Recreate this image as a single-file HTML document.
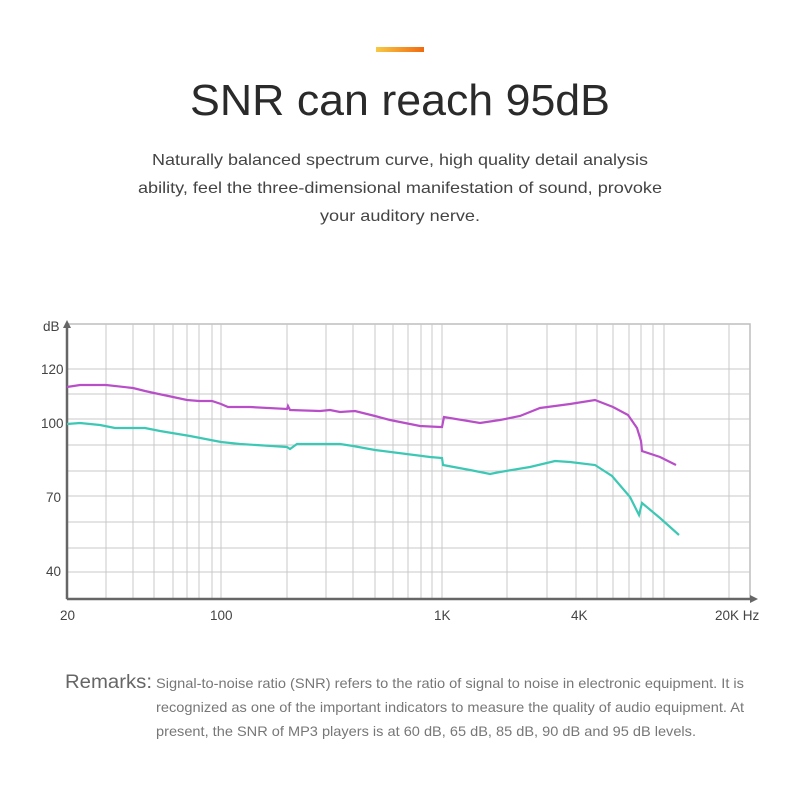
<!DOCTYPE html>
<html><head><meta charset="utf-8"><style>html,body{margin:0;padding:0;background:#fff}svg{display:block}</style></head>
<body>
<svg width="800" height="800" viewBox="0 0 800 800" xmlns="http://www.w3.org/2000/svg" font-family="Liberation Sans, sans-serif">
<defs><linearGradient id="g" x1="0" x2="1"><stop offset="0" stop-color="#f7c945"/><stop offset="1" stop-color="#f06a10"/></linearGradient></defs>
<rect x="376" y="47" width="48" height="5" fill="url(#g)"/>
<text x="400" y="115" font-size="44" text-anchor="middle" fill="#2a2a2a" textLength="420" lengthAdjust="spacingAndGlyphs">SNR can reach 95dB</text>
<g font-size="16" fill="#444" text-anchor="middle">
<text x="400" y="165" textLength="496" lengthAdjust="spacingAndGlyphs">Naturally balanced spectrum curve, high quality detail analysis</text>
<text x="400" y="193" textLength="524" lengthAdjust="spacingAndGlyphs">ability, feel the three-dimensional manifestation of sound, provoke</text>
<text x="400" y="221" textLength="160" lengthAdjust="spacingAndGlyphs">your auditory nerve.</text>
</g>
<g stroke="#c8c8c8" stroke-width="1">
<rect x="67" y="324" width="683" height="275" fill="none" stroke="#bdbdbd" stroke-width="1.5"/>
<path d="M67 369H750M67 394H750M67 419H750M67 445H750M67 471H750M67 496H750M67 522H750M67 548H750M67 572H750"/>
<path d="M106 324V599M133 324V599M154 324V599M173 324V599M187 324V599M199 324V599M212 324V599M221 324V599M287 324V599M326 324V599M353 324V599M375 324V599M393 324V599M408 324V599M421 324V599M432 324V599M442 324V599M507 324V599M547 324V599M576 324V599M597 324V599M613 324V599M629 324V599M641 324V599M653 324V599M664 324V599M729 324V599"/>
</g>
<g stroke="#666" stroke-width="2.5" fill="none"><path d="M67 599V326M67 599H752"/></g>
<path d="M63 328L67 320L71 328Z" fill="#666"/><path d="M750 595L758 599L750 603Z" fill="#666"/>
<g font-size="13.5" fill="#444">
<text x="43" y="331">dB</text>
<text x="41" y="374">120</text>
<text x="41" y="428">100</text>
<text x="46" y="502">70</text>
<text x="46" y="576">40</text>
<text x="60" y="620">20</text>
<text x="210" y="620">100</text>
<text x="434" y="620">1K</text>
<text x="571" y="620">4K</text>
<text x="715" y="620">20K  Hz</text>
</g>
<polyline fill="none" stroke="#b84fc8" stroke-width="2.2" points="67,387 80,385 106,385 133,388 145,391 154,393 173,397 187,400 199,401 212,401 221,404 228,407 250,407 287,409 288,406 290,410 320,411 330,410 340,412 355,411 375,416 390,420 420,426 440,427 442,427 444,417 480,423 500,420 520,416 540,408 570,404 595,400 613,407 628,415 637,428 641,441 642,451 660,457 676,465"/>
<polyline fill="none" stroke="#3cc8b4" stroke-width="2.2" points="67,424 80,423 100,425 115,428 145,428 160,431 190,436 221,442 240,444 287,447 290,449 297,444 340,444 353,446 375,450 430,457 442,458 443,465 470,470 490,474 500,472 530,467 555,461 570,462 595,465 612,476 630,497 639,515 642,503 660,518 679,535"/>
<text x="65" y="688" font-size="19" fill="#666" textLength="87" lengthAdjust="spacingAndGlyphs">Remarks:</text>
<g font-size="14" fill="#777">
<text x="156" y="688" textLength="588" lengthAdjust="spacingAndGlyphs">Signal-to-noise ratio (SNR) refers to the ratio of signal to noise in electronic equipment. It is</text>
<text x="156" y="712" textLength="588" lengthAdjust="spacingAndGlyphs">recognized as one of the important indicators to measure the quality of audio equipment. At</text>
<text x="156" y="736" textLength="540" lengthAdjust="spacingAndGlyphs">present, the SNR of MP3 players is at 60 dB, 65 dB, 85 dB, 90 dB and 95 dB levels.</text>
</g>
</svg>
</body></html>
